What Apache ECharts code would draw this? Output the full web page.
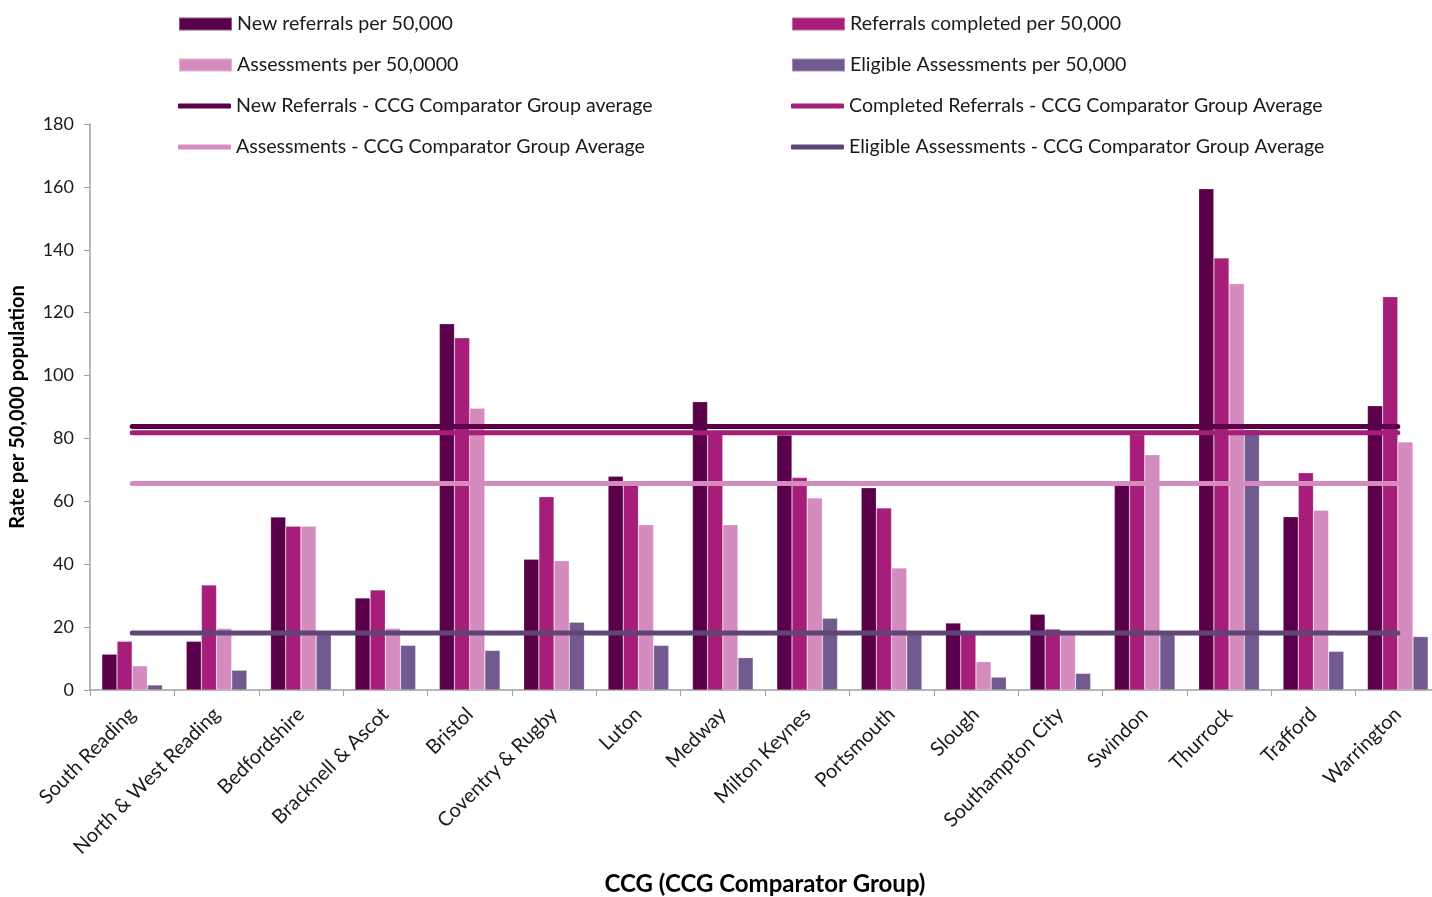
<!DOCTYPE html>
<html>
<head>
<meta charset="utf-8">
<script src="https://cdn.jsdelivr.net/npm/echarts@6/dist/echarts.min.js"></script>
<style>
  html, body { margin: 0; padding: 0; background: #fff; }
  #chart { width: 1432px; height: 897px; }
</style>
</head>
<body>
<div id="chart"></div>
<script>
const categories = [
  "South Reading", "North & West Reading", "Bedfordshire", "Bracknell & Ascot",
  "Bristol", "Coventry & Rugby", "Luton", "Medway", "Milton Keynes",
  "Portsmouth", "Slough", "Southampton City", "Swindon", "Thurrock",
  "Trafford", "Warrington",
];
const newReferrals = [11.4, 15.5, 55.0, 29.3, 116.5, 41.6, 68.0, 91.7, 81.1, 64.3, 21.3, 24.1, 65.2, 159.4, 55.1, 90.4];
const referralsCompleted = [15.5, 33.4, 52.1, 31.8, 112.0, 61.5, 65.5, 82.1, 67.6, 57.9, 17.8, 19.4, 81.2, 137.4, 69.1, 125.1];
const assessments = [7.7, 19.6, 52.1, 19.6, 89.6, 41.1, 52.6, 52.6, 61.1, 38.8, 9.0, 18.0, 74.8, 129.2, 57.2, 78.9];
const eligibleAssessments = [1.6, 6.3, 18.8, 14.2, 12.6, 21.6, 14.2, 10.3, 22.8, 18.8, 4.1, 5.3, 18.8, 82.8, 12.3, 17.0];

// comparator group averages (flat lines)
const avgNewReferrals = 83.8;
const avgCompleted = 81.8;
const avgAssessments = 65.7;
const avgEligible = 18.1;

const font = "Lato, 'Open Sans', sans-serif";

const chart = echarts.init(document.getElementById("chart"));

function barSeries(name, data, color) {
  return {
    name, type: "bar", data, barGap: "0%", barCategoryGap: "28%",
    itemStyle: { color, borderColor: "rgba(255,255,255,0.35)", borderWidth: 0.6 },
    z: 2,
  };
}

function avgSeries(name, value, color) {
  return {
    name, type: "line", symbol: "none", z: 5,
    data: categories.map(() => value),
    lineStyle: { color, width: 5, cap: "round" },
    itemStyle: { color },
  };
}

const legendText = { fontFamily: font, fontSize: 19.6, color: "#1a1a1a", lineHeight: 20 };

function legendBlock(left, top, names, isLine) {
  return {
    orient: "vertical", left, top, padding: 0, itemGap: 21,
    itemWidth: 53, itemHeight: isLine ? 5 : 13,
    icon: isLine ? "roundRect" : "rect",
    textStyle: legendText,
    data: names,
  };
}

chart.setOption({
  backgroundColor: "#fff",
  animation: false,
  grid: { left: 90, top: 124, bottom: 207, width: 1350, outerBoundsMode: "none" },
  legend: [
    legendBlock(178, 14, ["New referrals per 50,000", "Assessments per 50,0000"], false),
    legendBlock(178, 96, [
      "New Referrals - CCG Comparator Group average",
      "Assessments - CCG Comparator Group Average",
    ], true),
    legendBlock(791, 14, ["Referrals completed per 50,000", "Eligible Assessments per 50,000"], false),
    legendBlock(791, 96, [
      "Completed Referrals - CCG Comparator Group Average",
      "Eligible Assessments - CCG Comparator Group Average",
    ], true),
  ],
  xAxis: {
    type: "category",
    data: categories,
    name: "CCG (CCG Comparator Group)",
    nameLocation: "middle",
    nameGap: 182,
    nameTextStyle: { fontFamily: font, fontSize: 24, fontWeight: "bold", color: "#000" },
    axisLine: { lineStyle: { color: "#a0a0a0", width: 1.5 } },
    axisTick: { show: true, length: 6, lineStyle: { color: "#a0a0a0" } },
    axisLabel: {
      rotate: 45, interval: 0, margin: 21,
      fontFamily: font, fontSize: 20, color: "#1a1a1a",
    },
  },
  yAxis: {
    type: "value",
    min: 0, max: 180, interval: 20,
    name: "Rate per 50,000 population",
    nameLocation: "middle",
    nameGap: 62,
    nameTextStyle: { fontFamily: font, fontSize: 20, fontWeight: "bold", color: "#000" },
    axisLine: { show: true, lineStyle: { color: "#a0a0a0", width: 1.5 } },
    axisTick: { show: true, length: 6, lineStyle: { color: "#a0a0a0" } },
    splitLine: { show: false },
    axisLabel: { fontFamily: font, fontSize: 18, color: "#1a1a1a", margin: 16 },
  },
  series: [
    barSeries("New referrals per 50,000", newReferrals, "#5a004b"),
    barSeries("Referrals completed per 50,000", referralsCompleted, "#a61e79"),
    barSeries("Assessments per 50,0000", assessments, "#d48bbd"),
    barSeries("Eligible Assessments per 50,000", eligibleAssessments, "#725a90"),
    avgSeries("New Referrals - CCG Comparator Group average", avgNewReferrals, "#5a0048"),
    avgSeries("Completed Referrals - CCG Comparator Group Average", avgCompleted, "#a51e78"),
    avgSeries("Assessments - CCG Comparator Group Average", avgAssessments, "#d48bbd"),
    avgSeries("Eligible Assessments - CCG Comparator Group Average", avgEligible, "#5e4777"),
  ],
});
</script>
</body>
</html>
